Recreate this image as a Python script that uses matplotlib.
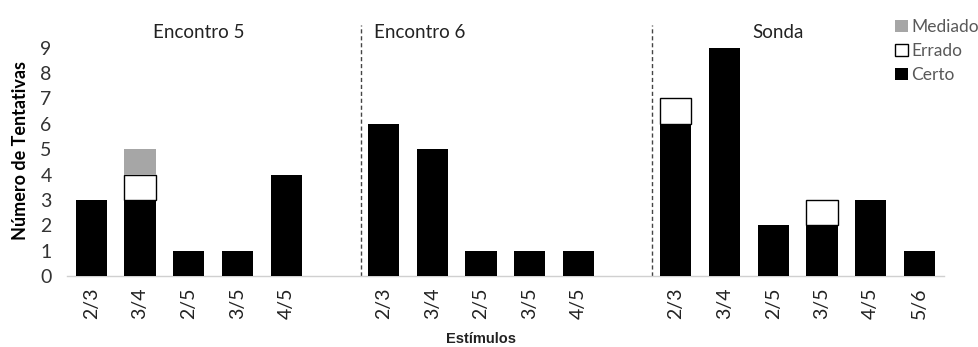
import matplotlib
matplotlib.use("Agg")
import matplotlib.pyplot as plt
from matplotlib.patches import Patch
import numpy as np

plt.rcParams['font.family'] = ['Lato', 'DejaVu Sans']

groups = ["Encontro 5", "Encontro 6", "Sonda"]
labels_e5 = ["2/3", "3/4", "2/5", "3/5", "4/5"]
labels_e6 = ["2/3", "3/4", "2/5", "3/5", "4/5"]
labels_sonda = ["2/3", "3/4", "2/5", "3/5", "4/5", "5/6"]

certo_e5 = [3, 3, 1, 1, 4]
errado_e5 = [0, 1, 0, 0, 0]
mediado_e5 = [0, 1, 0, 0, 0]

certo_e6 = [6, 5, 1, 1, 1]
errado_e6 = [0, 0, 0, 0, 0]
mediado_e6 = [0, 0, 0, 0, 0]

certo_sonda = [6, 9, 2, 2, 3, 1]
errado_sonda = [1, 0, 0, 1, 0, 0]
mediado_sonda = [0, 0, 0, 0, 0, 0]

# positions with one empty slot between groups
pos_e5 = np.arange(0, 5)
pos_e6 = np.arange(6, 11)
pos_sonda = np.arange(12, 18)

positions = np.concatenate([pos_e5, pos_e6, pos_sonda])
labels = labels_e5 + labels_e6 + labels_sonda
certo = np.array(certo_e5 + certo_e6 + certo_sonda)
errado = np.array(errado_e5 + errado_e6 + errado_sonda)
mediado = np.array(mediado_e5 + mediado_e6 + mediado_sonda)

fig = plt.figure(figsize=(9.79, 3.47), dpi=100)
ax = fig.add_axes([0.0684, 0.2046, 0.8956, 0.7235])

w = 0.64
ax.bar(positions, certo, width=w, color='black', edgecolor='none', zorder=3)
m = errado > 0
ax.bar(positions[m], errado[m], bottom=certo[m], width=w, color='white',
       edgecolor='black', linewidth=1.0, zorder=3)
m2 = mediado > 0
ax.bar(positions[m2], mediado[m2], bottom=(certo + errado)[m2], width=w,
       color='#a6a6a6', edgecolor='none', zorder=3)

ax.set_xlim(-0.5, 17.5)
ax.set_ylim(0, 9.9)
ax.set_yticks(range(0, 10))
ax.set_xticks(positions)
ax.set_xticklabels(labels, rotation=90, fontsize=14, color='#222222')
ax.tick_params(axis='y', labelsize=14, labelcolor='#333333', length=0, pad=11)
ax.tick_params(axis='x', length=0, pad=8)

for s in ['top', 'right', 'left']:
    ax.spines[s].set_visible(False)
ax.spines['bottom'].set_color('#d0d0d0')
ax.spines['bottom'].set_linewidth(1.0)

# dashed separators
for xs in [5.53, 11.52]:
    ax.plot([xs, xs], [0, 9.9], ls=(0, (3, 2)), color='#444444', lw=1.0,
            clip_on=False, zorder=2)

# group titles
ax.text(2.2, 9.62, groups[0], ha='center', va='center', fontsize=13.5, color='#222222')
ax.text(6.75, 9.62, groups[1], ha='center', va='center', fontsize=13.5, color='#222222')
ax.text(14.1, 9.62, groups[2], ha='center', va='center', fontsize=13.5, color='#222222')

ax.set_ylabel("Número de Tentativas", fontsize=13, fontweight='bold', labelpad=8)
fig.text(0.491, 0.022, "Estímulos", ha='center', va='center', fontsize=10.5,
         fontweight='bold', family=['Liberation Sans', 'DejaVu Sans'], color='#222222')

handles = [Patch(facecolor='#a6a6a6', edgecolor='none', label='Mediado'),
           Patch(facecolor='white', edgecolor='black', label='Errado'),
           Patch(facecolor='black', edgecolor='none', label='Certo')]
leg = fig.legend(handles=handles, loc='upper left', bbox_to_anchor=(0.904, 0.975),
                 frameon=False, fontsize=12.5, handlelength=0.7, handleheight=0.7,
                 handletextpad=0.2, labelspacing=0.45, borderpad=0.1)
for t in leg.get_texts():
    t.set_color('#595959')

fig.savefig("out.png", dpi=100)
